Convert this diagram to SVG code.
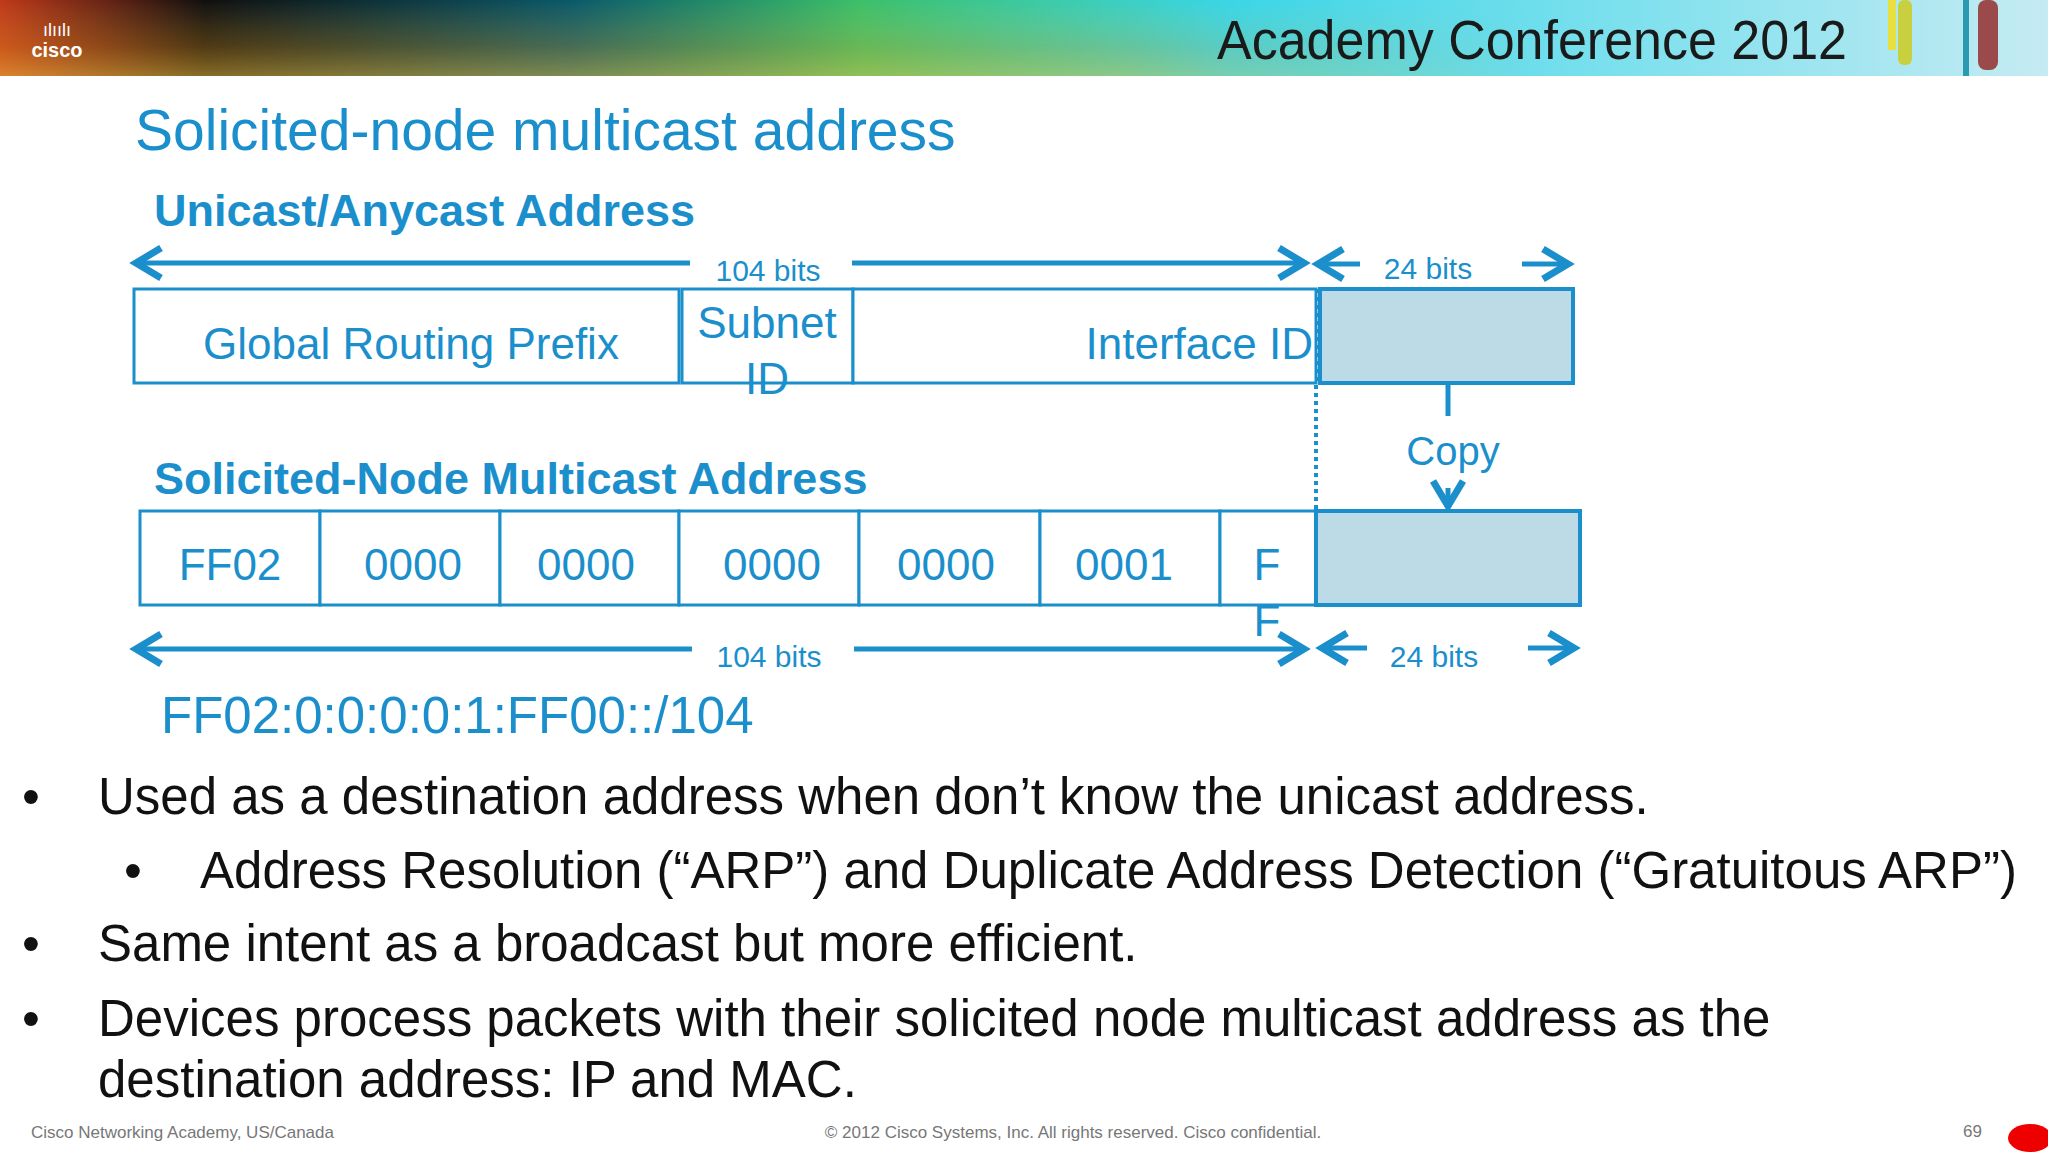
<svg xmlns="http://www.w3.org/2000/svg" width="2048" height="1152" viewBox="0 0 2048 1152">
<style>
text{font-family:"Liberation Sans",Arial,sans-serif}
.b{fill:#1b8fcc}
.box{fill:#fff;stroke:#1b8fcc;stroke-width:3}
.sh{fill:#bcdbe7;stroke:#1b8fcc;stroke-width:4}
.ar{stroke:#1b8fcc;stroke-width:5;fill:none;marker-end:url(#ah)}
</style>
<defs>
<linearGradient id="hg" x1="0" y1="0" x2="1" y2="0">
<stop offset="0" stop-color="#c0391b"/><stop offset="0.1" stop-color="#101010"/><stop offset="0.28" stop-color="#0b5a6a"/><stop offset="0.42" stop-color="#3cc06a"/><stop offset="0.6" stop-color="#3ad6e8"/><stop offset="1" stop-color="#c5ebf3"/>
</linearGradient>
<linearGradient id="hg2" x1="0" y1="0" x2="0" y2="1">
<stop offset="0" stop-color="#f0c040" stop-opacity="0"/><stop offset="0.6" stop-color="#e8a020" stop-opacity="0.3"/><stop offset="1" stop-color="#f0c040" stop-opacity="0.55"/>
</linearGradient>
<linearGradient id="hg3" x1="0" y1="0" x2="1" y2="0">
<stop offset="0" stop-color="#fff" stop-opacity="1"/><stop offset="0.55" stop-color="#fff" stop-opacity="0.8"/><stop offset="0.75" stop-color="#fff" stop-opacity="0"/>
</linearGradient>
<mask id="m"><rect x="0" y="0" width="2048" height="76" fill="url(#hg3)"/></mask>
<marker id="ah" markerWidth="8" markerHeight="8" refX="6" refY="4" orient="auto" markerUnits="strokeWidth"><path d="M1,1 L6,4 L1,7" fill="none" stroke="#1b8fcc" stroke-width="1.4"/></marker>
</defs>
<g id="header">
<rect x="0" y="0" width="2048" height="76" fill="url(#hg)"/>
<rect x="0" y="0" width="2048" height="76" fill="url(#hg2)" mask="url(#m)"/>
<text x="57" y="57" font-size="20" font-weight="bold" fill="#fff" text-anchor="middle">cisco</text>
<text x="57" y="36" font-size="18" fill="#fff" text-anchor="middle">ılıılı</text>
<text x="1217" y="59" font-size="55" textLength="630" lengthAdjust="spacingAndGlyphs" fill="#1a1a1a">Academy Conference 2012</text>
<rect x="1888" y="0" width="8" height="50" fill="#e8e040"/>
<rect x="1898" y="0" width="14" height="65" rx="6" fill="#c8d040"/>
<rect x="1963" y="0" width="6" height="76" fill="#2a9ab0"/>
<rect x="1978" y="0" width="20" height="70" rx="8" fill="#9a4a4a"/>
</g>
<text x="135" y="150" font-size="57" class="b">Solicited-node multicast address</text>
<text x="154" y="226" font-size="45" font-weight="bold" class="b">Unicast/Anycast Address</text>
<g id="connectors">
<line x1="690" y1="263" x2="136" y2="263" class="ar"/>
<line x1="852" y1="263" x2="1304" y2="263" class="ar"/>
<line x1="1360" y1="264" x2="1318" y2="264" class="ar"/>
<line x1="1522" y1="264" x2="1568" y2="264" class="ar"/>
<line x1="692" y1="649" x2="136" y2="649" class="ar"/>
<line x1="854" y1="649" x2="1304" y2="649" class="ar"/>
<line x1="1367" y1="648" x2="1322" y2="648" class="ar"/>
<line x1="1528" y1="648" x2="1574" y2="648" class="ar"/>
<line x1="1316" y1="289" x2="1316" y2="511" stroke="#1b8fcc" stroke-width="4" stroke-dasharray="4,4"/>
<line x1="1448" y1="383" x2="1448" y2="416" stroke="#1b8fcc" stroke-width="5"/>
<line x1="1448" y1="488" x2="1448" y2="506" class="ar"/>
</g>
<text x="768" y="281" font-size="30" class="b" text-anchor="middle">104 bits</text>
<text x="1428" y="279" font-size="30" class="b" text-anchor="middle">24 bits</text>
<g id="gRP"><rect x="134" y="289" width="545" height="94" class="box"/><text x="411" y="359" font-size="44" class="b" text-anchor="middle">Global Routing Prefix</text></g>
<g id="subnet"><rect x="682" y="289" width="171" height="94" class="box"/><text x="767" y="338" font-size="44" class="b" text-anchor="middle">Subnet</text><text x="767" y="394" font-size="44" class="b" text-anchor="middle">ID</text></g>
<g id="iid"><rect x="853" y="289" width="463" height="94" class="box"/><text x="1313" y="359" font-size="44" class="b" text-anchor="end">Interface ID</text></g>
<g id="top24"><rect x="1320" y="289" width="253" height="94" class="sh"/></g>
<text x="1453" y="465" font-size="40" class="b" text-anchor="middle">Copy</text>
<text x="154" y="494" font-size="45" font-weight="bold" class="b">Solicited-Node Multicast Address</text>
<g id="c1"><rect x="140" y="511" width="180" height="94" class="box"/><text x="230" y="580" font-size="44" class="b" text-anchor="middle">FF02</text></g>
<g id="c2"><rect x="320" y="511" width="180" height="94" class="box"/><text x="413" y="580" font-size="44" class="b" text-anchor="middle">0000</text></g>
<g id="c3"><rect x="500" y="511" width="179" height="94" class="box"/><text x="586" y="580" font-size="44" class="b" text-anchor="middle">0000</text></g>
<g id="c4"><rect x="679" y="511" width="180" height="94" class="box"/><text x="772" y="580" font-size="44" class="b" text-anchor="middle">0000</text></g>
<g id="c5"><rect x="859" y="511" width="181" height="94" class="box"/><text x="946" y="580" font-size="44" class="b" text-anchor="middle">0000</text></g>
<g id="c6"><rect x="1040" y="511" width="180" height="94" class="box"/><text x="1124" y="580" font-size="44" class="b" text-anchor="middle">0001</text></g>
<g id="c7"><rect x="1220" y="511" width="96" height="94" class="box"/><text x="1267" y="580" font-size="44" class="b" text-anchor="middle">F</text><text x="1267" y="636" font-size="44" class="b" text-anchor="middle">F</text></g>
<g id="c8"><rect x="1316" y="511" width="264" height="94" class="sh" stroke-width="3"/></g>
<text x="769" y="667" font-size="30" class="b" text-anchor="middle">104 bits</text>
<text x="1434" y="667" font-size="30" class="b" text-anchor="middle">24 bits</text>
<text x="161" y="733" font-size="51" class="b">FF02:0:0:0:0:1:FF00::/104</text>
<g font-size="51" fill="#111">
<text x="22" y="814">•</text><text x="98" y="814">Used as a destination address when don’t know the unicast address.</text>
<text x="124" y="888">•</text><text x="200" y="888">Address Resolution (“ARP”) and Duplicate Address Detection (“Gratuitous ARP”)</text>
<text x="22" y="961">•</text><text x="98" y="961">Same intent as a broadcast but more efficient.</text>
<text x="22" y="1036">•</text><text x="98" y="1036">Devices process packets with their solicited node multicast address as the</text>
<text x="98" y="1097">destination address: IP and MAC.</text>
</g>
<g font-size="17" fill="#777">
<text x="31" y="1138">Cisco Networking Academy, US/Canada</text>
<text x="1073" y="1138" text-anchor="middle">© 2012 Cisco Systems, Inc. All rights reserved. Cisco confidential.</text>
<text x="1963" y="1137">69</text>
</g>
<ellipse cx="2030" cy="1138" rx="22" ry="14" fill="#e00"/>
</svg>
